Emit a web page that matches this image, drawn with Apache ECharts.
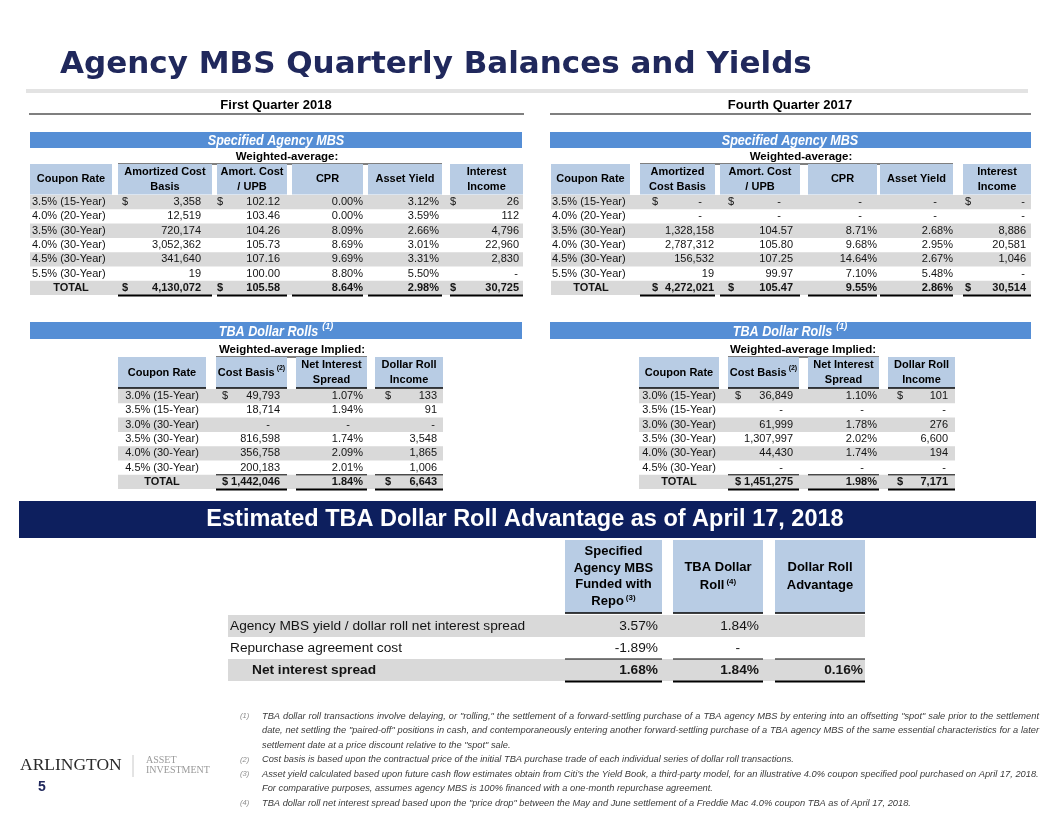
<!DOCTYPE html>
<html><head><meta charset="utf-8">
<script src="https://cdn.jsdelivr.net/npm/echarts@6/dist/echarts.min.js"></script>
<style>html,body{margin:0;padding:0;background:#fff}#main{width:1056px;height:816px}</style>
</head><body><div id="main"></div>
<script>
// ================= DATA =================
const specCoupons = ['3.5% (15-Year)','4.0% (20-Year)','3.5% (30-Year)','4.0% (30-Year)','4.5% (30-Year)','5.5% (30-Year)','TOTAL'];
const q1AmortCost = [3358, 12519, 720174, 3052362, 341640, 19, 4130072];
const q1CostUPB   = [102.12, 103.46, 104.26, 105.73, 107.16, 100.00, 105.58];
const q1CPR       = [0.00, 0.00, 8.09, 8.69, 9.69, 8.80, 8.64];
const q1Yield     = [3.12, 3.59, 2.66, 3.01, 3.31, 5.50, 2.98];
const q1Income    = [26, 112, 4796, 22960, 2830, null, 30725];
const q4AmortCost = [null, null, 1328158, 2787312, 156532, 19, 4272021];
const q4CostUPB   = [null, null, 104.57, 105.80, 107.25, 99.97, 105.47];
const q4CPR       = [null, null, 8.71, 9.68, 14.64, 7.10, 9.55];
const q4Yield     = [null, null, 2.68, 2.95, 2.67, 5.48, 2.86];
const q4Income    = [null, null, 8886, 20581, 1046, null, 30514];

const tbaCoupons  = ['3.0% (15-Year)','3.5% (15-Year)','3.0% (30-Year)','3.5% (30-Year)','4.0% (30-Year)','4.5% (30-Year)','TOTAL'];
const q1TbaCost   = [49793, 18714, null, 816598, 356758, 200183, 1442046];
const q1TbaSpread = [1.07, 1.94, null, 1.74, 2.09, 2.01, 1.84];
const q1TbaIncome = [133, 91, null, 3548, 1865, 1006, 6643];
const q4TbaCost   = [36849, null, 61999, 1307997, 44430, null, 1451275];
const q4TbaSpread = [1.10, null, 1.78, 2.02, 1.74, null, 1.98];
const q4TbaIncome = [101, null, 276, 6600, 194, null, 7171];

const advRows      = ['Agency MBS yield / dollar roll net interest spread','Repurchase agreement cost','Net interest spread'];
const advSpecified = [3.57, -1.89, 1.68];
const advTBA       = [1.84, null, 1.84];
const advAdvantage = ['', '', 0.16];

const footnotes = [
  ['(1)', 'TBA dollar roll transactions involve delaying, or "rolling," the settlement of a forward-settling purchase of a TBA agency MBS by entering into an offsetting "spot" sale prior to the settlement', true],
  [null, 'date, net settling the "paired-off" positions in cash, and contemporaneously entering another forward-settling purchase of a TBA agency MBS of the same essential characteristics for a later', true],
  [null, 'settlement date at a price discount relative to the "spot" sale.', false],
  ['(2)', 'Cost basis is based upon the contractual price of the initial TBA purchase trade of each individual series of dollar roll transactions.', false],
  ['(3)', 'Asset yield calculated based upon future cash flow estimates obtain from Citi\u2019s the Yield Book, a third-party model, for an illustrative 4.0% coupon specified pool purchased on April 17, 2018.', false],
  [null, 'For comparative purposes, assumes agency MBS is 100% financed with a one-month repurchase agreement.', false],
  ['(4)', 'TBA dollar roll net interest spread based upon the "price drop" between the May and June settlement of a Freddie Mac 4.0% coupon TBA as of April 17, 2018.', false]
];

// ================= STYLE =================
const NAVY = '#20285C', BANNER = '#0D1F5E', BLUE = '#558ED5', HEAD = '#B8CCE4', GRAY = '#D9D9D9', TXT = '#141414';
const SANS = '"Liberation Sans", Arial, sans-serif';
const SERIF = '"Liberation Serif", "Times New Roman", serif';
const fmtInt = v => v.toLocaleString('en-US');
const fmt2 = v => v.toFixed(2);
const fmtPct = v => v.toFixed(2) + '%';

const mctx = document.createElement('canvas').getContext('2d');
function tw(text, font) { mctx.font = font; return mctx.measureText(text).width; }

const G = [];
function txt(x, y, text, font, fill, align, va, extra) {
  align = align || 'left'; va = va || 'middle';
  G.push(Object.assign({ type: 'text', x: x, y: y, silent: true,
    style: { text: text, font: font, fill: fill, textAlign: align, textVerticalAlign: va, align: align, verticalAlign: va } }, extra || {}));
}
function rect(x, y, w, h, fill) { G.push({ type: 'rect', silent: true, shape: { x: x, y: y, width: w, height: h }, style: { fill: fill } }); }
function line(x1, y1, x2, y2, stroke, lw) { G.push({ type: 'line', silent: true, shape: { x1: x1, y1: y1, x2: x2, y2: y2 }, style: { stroke: stroke, lineWidth: lw } }); }

function hcell(x0, x1, y0, y1, lines, opt) {
  opt = opt || {};
  rect(x0, y0, x1 - x0, y1 - y0, HEAD);
  const font = opt.font || ('bold 11px ' + SANS);
  const lh = opt.lh || 15;
  const cx = (x0 + x1) / 2, cy = (y0 + y1) / 2 + (opt.dy || 0);
  lines.forEach((ln, i) => {
    const y = cy + (i - (lines.length - 1) / 2) * lh;
    if (i === lines.length - 1 && opt.sup) {
      const sf = 'bold ' + (opt.supSize || 7) + 'px ' + SANS;
      const w1 = tw(ln, font), w2 = tw(opt.sup, sf) + 2;
      const st = cx - (w1 + w2) / 2;
      txt(st, y, ln, font, '#000', 'left');
      txt(st + w1 + 2, y - 4, opt.sup, sf, '#000', 'left');
    } else {
      txt(cx, y, ln, font, '#000', 'center');
    }
  });
  if (opt.border) line(x0, y1, x1, y1, '#000', 1.3);
}

// ---- title ----
txt(60, 65, 'Agency MBS Quarterly Balances and Yields', 'bold 31px "DejaVu Sans"', NAVY, 'left');
rect(26, 89, 1002, 4, '#E3E3E3');

// ---- quarter headings ----
txt(276, 105.5, 'First Quarter 2018', 'bold 13px ' + SANS, '#000', 'center');
line(29, 114, 524, 114, '#000', 1.2);
txt(790, 105.5, 'Fourth Quarter 2017', 'bold 13px ' + SANS, '#000', 'center');
line(550, 114, 1031, 114, '#000', 1.2);

// ---- blue bands ----
const bandFont = 'italic bold 15px ' + SANS;
rect(30, 132, 492, 16, BLUE);
txt(276, 141, 'Specified Agency MBS', bandFont, '#fff', 'center', 'middle', { scaleX: 0.84 });
rect(550, 132, 481, 16, BLUE);
txt(790, 141, 'Specified Agency MBS', bandFont, '#fff', 'center', 'middle', { scaleX: 0.84 });

function tbaBand(x0, x1, cx) {
  rect(x0, 322, x1 - x0, 17, BLUE);
  const w1 = tw('TBA Dollar Rolls', bandFont) * 0.84;
  const sf = 'italic bold 9px ' + SANS;
  const w2 = tw('(1)', sf);
  const st = cx - (w1 + 4 + w2) / 2;
  txt(st, 332, 'TBA Dollar Rolls', bandFont, '#fff', 'left', 'middle', { scaleX: 0.84 });
  txt(st + w1 + 4, 327, '(1)', sf, '#fff', 'left');
}
tbaBand(30, 522, 276);
tbaBand(550, 1031, 790);

// ---- weighted-average captions ----
const capFont = 'bold 11.5px ' + SANS;
txt(287, 157, 'Weighted-average:', capFont, '#000', 'center');
line(118, 164, 442, 164, '#000', 1.2);
txt(801, 157, 'Weighted-average:', capFont, '#000', 'center');
line(640, 164, 953, 164, '#000', 1.2);
txt(292, 350, 'Weighted-average Implied:', capFont, '#000', 'center');
line(216, 357, 367, 357, '#000', 1.2);
txt(803, 350, 'Weighted-average Implied:', capFont, '#000', 'center');
line(728, 357, 879, 357, '#000', 1.2);

// ---- header cells: specified ----
[[30,112,['Coupon Rate']],[118,212,['Amortized Cost','Basis']],[217,287,['Amort. Cost','/ UPB']],[292,363,['CPR']],[368,442,['Asset Yield']],[450,523,['Interest','Income']]]
  .forEach(c => hcell(c[0], c[1], 164, 194.5, c[2]));
[[551,630,['Coupon Rate']],[640,715,['Amortized','Cost Basis']],[720,800,['Amort. Cost','/ UPB']],[808,877,['CPR']],[880,953,['Asset Yield']],[963,1031,['Interest','Income']]]
  .forEach(c => hcell(c[0], c[1], 164, 194.5, c[2]));
// ---- header cells: TBA ----
function tbaHeads(cols) {
  hcell(cols[0][0], cols[0][1], 357, 388, ['Coupon Rate'], { border: true });
  hcell(cols[1][0], cols[1][1], 357, 388, ['Cost Basis'], { border: true, sup: '(2)' });
  hcell(cols[2][0], cols[2][1], 357, 388, ['Net Interest', 'Spread'], { border: true });
  hcell(cols[3][0], cols[3][1], 357, 388, ['Dollar Roll', 'Income'], { border: true });
}
tbaHeads([[118,206],[216,287],[296,367],[375,443]]);
tbaHeads([[639,719],[728,799],[808,879],[888,955]]);

// ---- banner ----
rect(19, 501, 1017, 37, BANNER);
txt(525, 520, 'Estimated TBA Dollar Roll Advantage as of April 17, 2018', 'bold 23.5px ' + SANS, '#fff', 'center');

// ---- advantage headers ----
const advHF = 'bold 13px ' + SANS;
hcell(565, 662, 540, 613, ['Specified', 'Agency MBS', 'Funded with', 'Repo'], { font: advHF, lh: 16.7, sup: '(3)', supSize: 8, border: true });
hcell(673, 763, 540, 613, ['TBA Dollar', 'Roll'], { font: advHF, lh: 18, sup: '(4)', supSize: 8, border: true });
hcell(775, 865, 540, 613, ['Dollar Roll', 'Advantage'], { font: advHF, lh: 18, border: true });

// ---- logo & page number ----
txt(20, 765, 'ARLINGTON', '17.5px ' + SERIF, '#2a2a2a', 'left');
line(133, 755, 133, 777, '#c8c8c8', 1);
txt(146, 760, 'ASSET', '10px ' + SERIF, '#9a9a9a', 'left');
txt(146, 770, 'INVESTMENT', '10px ' + SERIF, '#9a9a9a', 'left');
txt(38, 787, '5', 'bold 14px ' + SANS, NAVY, 'left');

// ---- footnotes ----
(function () {
  const X0 = 262, X1 = 1039;
  let fs = 8.5 * (X1 - X0) / tw(footnotes[4][1], 'italic 8.5px ' + SANS);
  fs = Math.max(7.5, Math.min(9.5, fs));
  const ff = 'italic ' + fs.toFixed(2) + 'px ' + SANS;
  footnotes.forEach((fn, i) => {
    const y = 716 + i * 14.5;
    if (fn[0]) txt(240, y, fn[0], 'italic 7.5px ' + SANS, '#8c8c8c', 'left');
    if (fn[2]) {
      const words = fn[1].split(' ');
      const ws = words.map(w => tw(w, ff));
      const total = ws.reduce((a, b) => a + b, 0);
      const gap = (X1 - X0 - total) / (words.length - 1);
      let x = X0;
      words.forEach((w, k) => { txt(x, y, w, ff, '#3a3a3a', 'left'); x += ws[k] + gap; });
    } else {
      txt(X0, y, fn[1], ff, '#3a3a3a', 'left');
    }
  });
})();

// ================= TABLES (custom series on grids) =================
const TABLES = [
  { rows: specCoupons,
    cols: [{ v: q1AmortCost, f: fmtInt }, { v: q1CostUPB, f: fmt2 }, { v: q1CPR, f: fmtPct }, { v: q1Yield, f: fmtPct }, { v: q1Income, f: fmtInt }],
    L: { x0: 30, x1: 523, top: 195, rowH: 14.3, fs: 11, labelX: 32, labelAlign: 'left', totalX: 71, totalAlign: 'center',
         colX: [[30,112],[118,212],[217,287],[292,363],[368,442],[450,523]],
         rightX: [0, 201, 280, 363, 439, 519], dollarX: [0, 122, 217, 0, 0, 450], dashPad: [0, 12, 12, 14, 14, 1] },
    dollarCols: [1, 2, 5], dollarRows: [0, 6], gray: [0, 2, 4, 6], total: 6, lineAbove: false, underline: [1, 2, 3, 4, 5] },
  { rows: specCoupons,
    cols: [{ v: q4AmortCost, f: fmtInt }, { v: q4CostUPB, f: fmt2 }, { v: q4CPR, f: fmtPct }, { v: q4Yield, f: fmtPct }, { v: q4Income, f: fmtInt }],
    L: { x0: 551, x1: 1031, top: 195, rowH: 14.3, fs: 11, labelX: 552, labelAlign: 'left', totalX: 591, totalAlign: 'center',
         colX: [[551,630],[640,715],[720,800],[808,877],[880,953],[963,1031]],
         rightX: [0, 714, 793, 877, 953, 1026], dollarX: [0, 652, 728, 0, 0, 965], dashPad: [0, 12, 12, 15, 16, 1] },
    dollarCols: [1, 2, 5], dollarRows: [0, 6], gray: [0, 2, 4, 6], total: 6, lineAbove: false, underline: [1, 2, 3, 4, 5] },
  { rows: tbaCoupons,
    cols: [{ v: q1TbaCost, f: fmtInt }, { v: q1TbaSpread, f: fmtPct }, { v: q1TbaIncome, f: fmtInt }],
    L: { x0: 118, x1: 443, top: 389, rowH: 14.3, fs: 11, labelX: 162, labelAlign: 'center', totalX: 162, totalAlign: 'center',
         colX: [[118,206],[216,287],[296,367],[375,443]],
         rightX: [0, 280, 363, 437], dollarX: [0, 222, 0, 385], dashPad: [0, 10, 13, 2] },
    dollarCols: [1, 3], dollarRows: [0, 6], gray: [0, 2, 4, 6], total: 6, lineAbove: true, underline: [1, 2, 3] },
  { rows: tbaCoupons,
    cols: [{ v: q4TbaCost, f: fmtInt }, { v: q4TbaSpread, f: fmtPct }, { v: q4TbaIncome, f: fmtInt }],
    L: { x0: 639, x1: 955, top: 389, rowH: 14.3, fs: 11, labelX: 679, labelAlign: 'center', totalX: 679, totalAlign: 'center',
         colX: [[639,719],[728,799],[808,879],[888,955]],
         rightX: [0, 793, 877, 948], dollarX: [0, 735, 0, 897], dashPad: [0, 10, 13, 2] },
    dollarCols: [1, 3], dollarRows: [0, 6], gray: [0, 2, 4, 6], total: 6, lineAbove: true, underline: [1, 2, 3] },
  { rows: advRows,
    cols: [{ v: advSpecified, f: fmtPct }, { v: advTBA, f: fmtPct }, { v: advAdvantage, f: fmtPct }],
    L: { x0: 228, x1: 865, top: 615, rowH: 22, fs: 13.7, labelX: 230, labelAlign: 'left', totalX: 252, totalAlign: 'left',
         colX: [[228,560],[565,662],[673,763],[775,865]],
         rightX: [0, 658, 759, 863], dollarX: [0, 0, 0, 0], dashPad: [0, 14, 19, 14] },
    dollarCols: [], dollarRows: [], gray: [0, 2], total: 2, lineAbove: true, underline: [1, 2, 3] }
];

const grids = [], xAxes = [], yAxes = [], series = [];
TABLES.forEach((T, gi) => {
  const L = T.L;
  grids.push({ left: L.x0, top: L.top, width: L.x1 - L.x0, height: T.rows.length * L.rowH, containLabel: false });
  xAxes.push({ gridIndex: gi, type: 'value', min: L.x0, max: L.x1, show: false });
  yAxes.push({ gridIndex: gi, type: 'category', data: T.rows, inverse: true, show: false });
  series.push({
    type: 'custom', xAxisIndex: gi, yAxisIndex: gi, clip: false, silent: true,
    encode: { x: 0, y: 1 },
    data: T.rows.map((_, i) => [L.x0, i]),
    renderItem: function (params, api) {
      const r = api.value(1);
      const cy = api.coord([L.x0, r])[1];
      const h = api.size([0, 1])[1];
      const top = cy - h / 2, bot = cy + h / 2;
      const X = px => api.coord([px, r])[0];
      const kids = [];
      const isTot = r === T.total;
      const font = (isTot ? 'bold ' : '') + L.fs + 'px ' + SANS;
      const t = (x, text, align) => kids.push({ type: 'text', x: x, y: cy,
        style: { text: text, font: font, fill: TXT, textAlign: align, textVerticalAlign: 'middle', align: align, verticalAlign: 'middle' } });
      if (T.gray.indexOf(r) >= 0) kids.push({ type: 'rect', shape: { x: X(L.x0), y: top, width: X(L.x1) - X(L.x0), height: h }, style: { fill: GRAY } });
      const lab = T.rows[r];
      if (isTot) t(X(L.totalX), lab, L.totalAlign); else t(X(L.labelX), lab, L.labelAlign);
      T.cols.forEach((col, ci) => {
        const c = ci + 1;
        const v = col.v[r];
        if (T.dollarRows.indexOf(r) >= 0 && T.dollarCols.indexOf(c) >= 0) t(X(L.dollarX[c]), '$', 'left');
        if (v === '' || v === undefined) return;
        if (v === null) t(X(L.rightX[c] - L.dashPad[c]), '-', 'right');
        else t(X(L.rightX[c]), col.f(v), 'right');
      });
      if (isTot) {
        T.underline.forEach(c => {
          const a = L.colX[c][0], b = L.colX[c][1];
          kids.push({ type: 'line', shape: { x1: X(a), y1: bot + 0.5, x2: X(b), y2: bot + 0.5 }, style: { stroke: '#000', lineWidth: 2 } });
          if (T.lineAbove) kids.push({ type: 'line', shape: { x1: X(a), y1: top, x2: X(b), y2: top }, style: { stroke: '#000', lineWidth: 1 } });
        });
      }
      return { type: 'group', children: kids };
    }
  });
});

const chart = echarts.init(document.getElementById('main'), null, { renderer: 'canvas', width: 1056, height: 816 });
chart.setOption({
  animation: false,
  backgroundColor: '#ffffff',
  grid: grids,
  xAxis: xAxes,
  yAxis: yAxes,
  series: series,
  graphic: { elements: G }
});
</script></body></html>
